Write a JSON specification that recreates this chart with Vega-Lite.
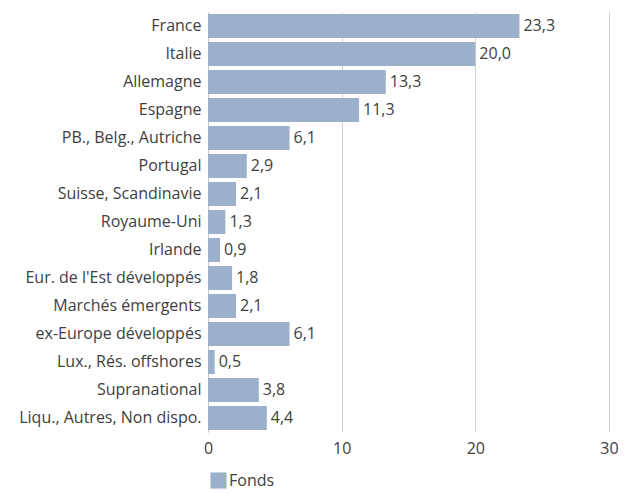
{
  "$schema": "https://vega.github.io/schema/vega-lite/v6.json",
  "width": 401,
  "height": 420,
  "autosize": {"type": "none"},
  "padding": {"left": 208, "top": 12, "right": 23, "bottom": 61},
  "background": "white",
  "config": {
    "locale": {"number": {"decimal": ",", "thousands": " ", "grouping": [3], "currency": ["", " €"]}},
    "font": "Open Sans",
    "view": {"stroke": null},
    "axis": {"labelFont": "Open Sans", "labelColor": "#404040", "labelFontSize": 16}
  },
  "data": {
    "values": [
      {"region": "France", "value": 23.3, "serie": "Fonds"},
      {"region": "Italie", "value": 20.0, "serie": "Fonds"},
      {"region": "Allemagne", "value": 13.3, "serie": "Fonds"},
      {"region": "Espagne", "value": 11.3, "serie": "Fonds"},
      {"region": "PB., Belg., Autriche", "value": 6.1, "serie": "Fonds"},
      {"region": "Portugal", "value": 2.9, "serie": "Fonds"},
      {"region": "Suisse, Scandinavie", "value": 2.1, "serie": "Fonds"},
      {"region": "Royaume-Uni", "value": 1.3, "serie": "Fonds"},
      {"region": "Irlande", "value": 0.9, "serie": "Fonds"},
      {"region": "Eur. de l'Est développés", "value": 1.8, "serie": "Fonds"},
      {"region": "Marchés émergents", "value": 2.1, "serie": "Fonds"},
      {"region": "ex-Europe développés", "value": 6.1, "serie": "Fonds"},
      {"region": "Lux., Rés. offshores", "value": 0.5, "serie": "Fonds"},
      {"region": "Supranational", "value": 3.8, "serie": "Fonds"},
      {"region": "Liqu., Autres, Non dispo.", "value": 4.4, "serie": "Fonds"}
    ]
  },
  "encoding": {
    "y": {
      "field": "region", "type": "nominal", "sort": null,
      "scale": {"paddingInner": 0.14, "paddingOuter": 0.07},
      "axis": {"title": null, "ticks": false, "labelPadding": 7, "labelLimit": 400, "domain": true, "domainColor": "#c8c8c8", "domainWidth": 1, "grid": false}
    },
    "x": {
      "field": "value", "type": "quantitative",
      "scale": {"domain": [0, 30], "nice": false},
      "axis": {"title": null, "values": [0, 10, 20, 30], "ticks": false, "domain": false, "grid": true, "gridColor": "#d0d0d0", "gridWidth": 1, "labelPadding": 8, "labelFlush": false}
    }
  },
  "layer": [
    {
      "mark": {"type": "bar"},
      "encoding": {
        "color": {
          "field": "serie", "type": "nominal",
          "scale": {"range": ["#9bb0ca"]},
          "legend": {
            "title": null, "orient": "none", "legendX": 2, "legendY": 460,
            "symbolType": "square", "symbolSize": 260, "symbolStrokeWidth": 0,
            "labelFontSize": 16, "labelColor": "#404040", "labelFont": "Open Sans", "labelOffset": 2
          }
        }
      }
    },
    {
      "mark": {"type": "text", "align": "left", "baseline": "middle", "dx": 4, "fontSize": 16, "color": "#404040", "font": "Open Sans"},
      "encoding": {
        "text": {"field": "value", "type": "quantitative", "format": ".1f"}
      }
    }
  ]
}
